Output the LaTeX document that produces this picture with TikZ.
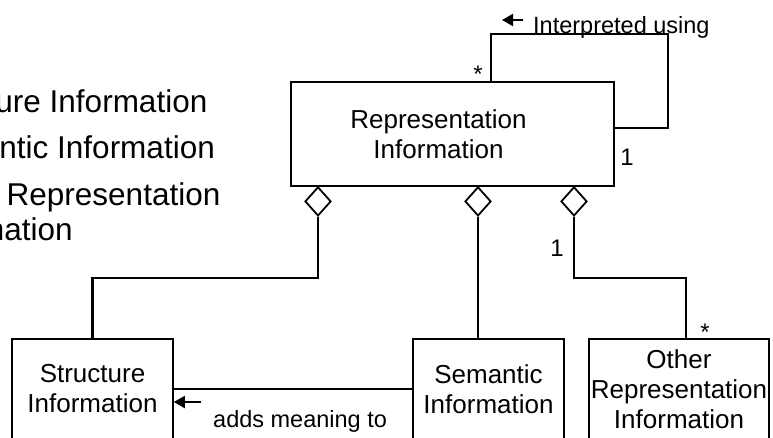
\documentclass[tikz,border=0pt]{standalone}
\usepackage{fontspec}
\setmainfont{Liberation Sans}
\usetikzlibrary{arrows.meta}
\usetikzlibrary{shapes.geometric}
\newcommand{\dirarrow}[2] % tail, tip
{
	\draw[line width=2pt, -{Triangle[length=11pt, width=12pt]}] (#1) -- (#2);
}

\begin{document}
\begin{tikzpicture}[x=1pt, y=-1pt,
	cls/.style={draw, line width=1.6pt, align=center, inner sep=0pt, font=\fontsize{26}{30}\selectfont},
	assoc/.style={line width=2.2pt},
	agg/.style={diamond, draw, line width=1.8pt, fill=white, inner sep=0pt, minimum width=26pt, minimum height=29pt},
	mult/.style={font=\fontsize{24}{28}\selectfont, anchor=base, inner sep=0pt},
	lbl/.style={font=\fontsize{23.5}{28}\selectfont, anchor=base west, inner sep=0pt},
	item/.style={font=\fontsize{31.5}{36}\selectfont, anchor=base west, inner sep=0pt}]
	% page: 773 x 437, units in px, y down
	\useasboundingbox (0,0) rectangle (773,437);
	\clip (0,0) rectangle (773,437);

	% list on the left, cut by the page edge
	\node[item] (istr) at (-87,112) {Structure Information};
	\node[item] (isem) at (-83,158) {Semantic Information};
	\node[item] (ioth) at (-81,205) {Other Representation};
	\node[item] (ioth2) at (-85,240) {Information};

	% classes
	\node[cls, minimum width=323pt, minimum height=104pt,
		label={[xshift=-14pt, align=center, font=\fontsize{26}{30}\selectfont]center:Representation\\Information}] (rep) at (452.5,134) {};
	\node[cls, minimum width=161pt, minimum height=100pt] (str) at (92.5,389) {Structure\\Information};
	\node[cls, minimum width=151pt, minimum height=100pt] (sem) at (488.5,389) {Semantic\\Information};
	\node[cls, minimum width=180pt, minimum height=100pt] (oth) at (679,389) {Other\\Representation\\Information};

	% aggregation diamonds
	\node[agg, anchor=north] (d1) at (318,186) {};
	\node[agg, anchor=north] (d2) at (478,186) {};
	\node[agg, anchor=north] (d3) at (574,186) {};

	% parts
	\draw[assoc] (d1.south) -- ++(0,61) -| (str.north);
	\draw[assoc] (d2.south) -- (d2.south |- sem.north);
	\draw[assoc] (d3.south) -- ++(0,61) -| ([xshift=7pt]oth.north);
	\node[mult] (m1) at (557,256) {1};
	\node[mult] (m2) at (705,340) {*};

	% self association
	\draw[assoc] ([xshift=38.5pt]rep.north) |- (668,34) |- (rep.east |- 0,128);
	\node[mult] (m3) at (478,82) {*};
	\node[mult] (m4) at (627,165) {1};
	\dirarrow{523,20}{502,20};
	\node[lbl] (interp) at (533,33) {Interpreted using};

	% semantic -> structure
	\draw[assoc] (sem.west) -- (str.east);
	\dirarrow{201,402}{str.east |- 0,402};
	\node[lbl] (adds) at (213,427) {adds meaning to};

\end{tikzpicture}
\end{document}
